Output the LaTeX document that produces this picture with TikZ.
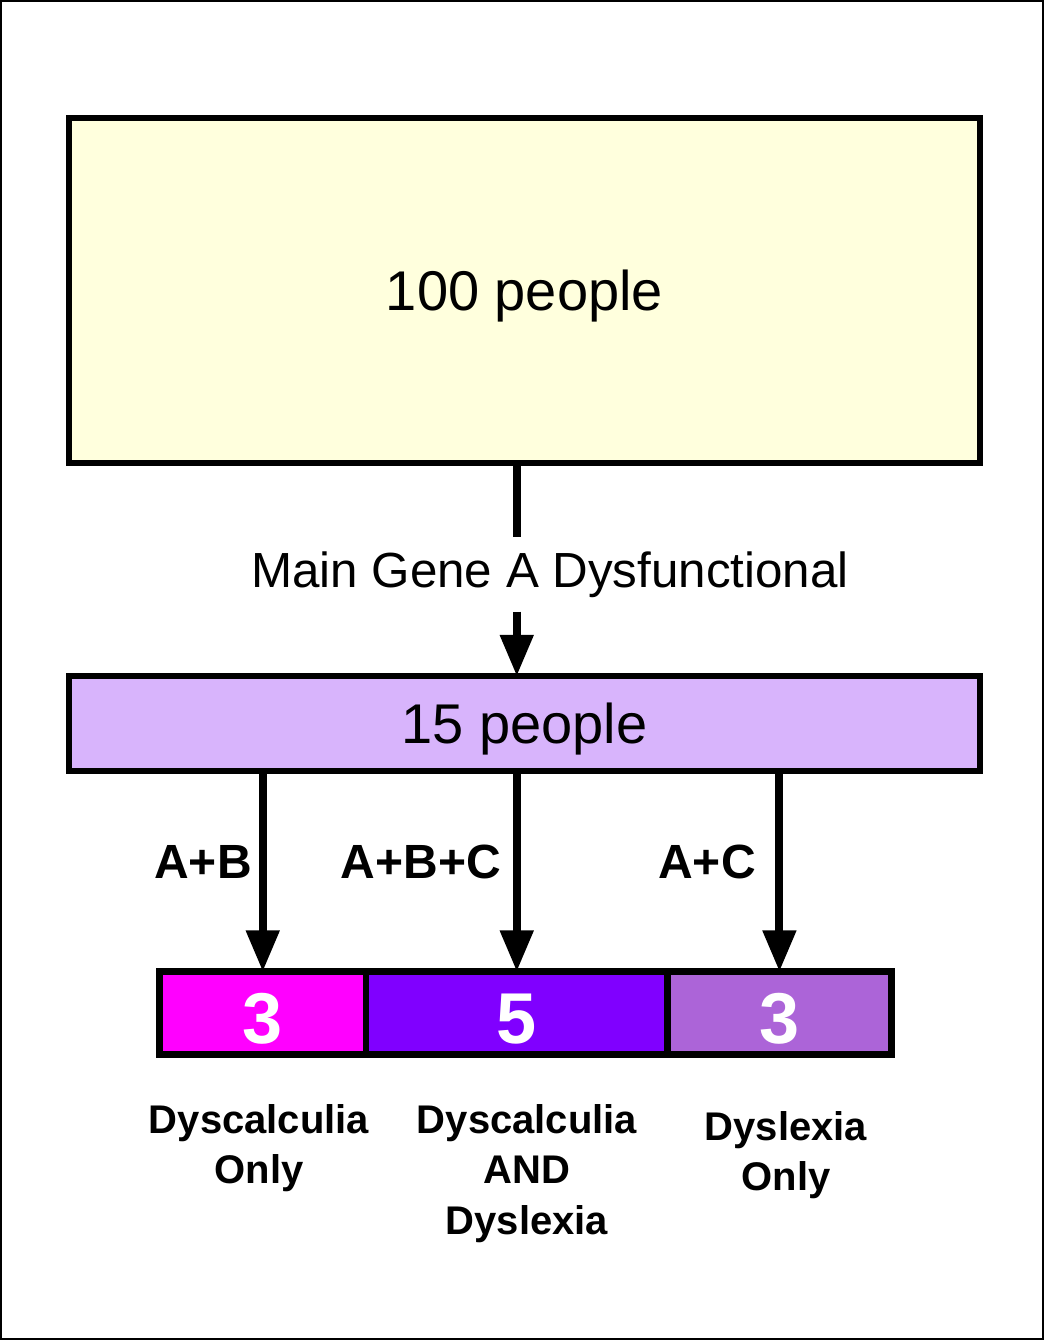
\documentclass[tikz,border=0pt]{standalone}
\usepackage{fontspec}
\setmainfont{Liberation Sans}
\usetikzlibrary{arrows.meta,positioning}
\definecolor{paleyellow}{RGB}{255,255,221}
\definecolor{lilac}{RGB}{216,180,252}
\definecolor{hotmagenta}{RGB}{255,0,255}
\definecolor{bluviolet}{RGB}{128,0,255}
\definecolor{orchid}{RGB}{172,100,216}

\begin{document}
\begin{tikzpicture}[x=0.75pt,y=-0.75pt,
  box/.style={draw, line width=4.5pt, minimum width=683pt, inner sep=0pt, outer sep=0pt, text depth=0pt, font=\fontsize{42}{50}\selectfont},
  seg/.style={draw, line width=5pt, minimum height=62pt, inner sep=0pt, outer sep=0pt, text=white, text height=45pt, text depth=0pt, font=\fontsize{54}{60}\selectfont\bfseries},
  link/.style={line width=6pt},
  tip/.style={link, -{Triangle[width=24pt,length=31pt]}},
  gate/.style={anchor=base, inner sep=0pt, font=\fontsize{36}{44}\selectfont\bfseries},
  group/.style={anchor=north, inner sep=0pt, align=center, font=\fontsize{30}{38}\selectfont\bfseries}]
\useasboundingbox (0,0) rectangle (1044,1340);
\draw[line width=1.5pt] (1,1) rectangle (1043,1339);

\node[box, fill=paleyellow, minimum height=259pt] (pool) at (524.5,290.5) {100 people};
\node[box, fill=lilac, minimum height=71pt] (carriers) at (524.5,723.5) {15 people};
\node[anchor=base, inner xsep=0pt, inner ysep=10.5pt, font=\fontsize{37}{44}\selectfont] (cause) at (550,587) {Main Gene A Dysfunctional};

\node[seg, fill=hotmagenta, minimum width=155pt] (calc) at (262.75,1013) {3};
\node[seg, fill=bluviolet, minimum width=226pt, right=0pt of calc] (both) {5};
\node[seg, fill=orchid, minimum width=168pt, right=0pt of both] (lex) {3};

\draw[link] (pool.south -| both.north) -- (cause.north -| both.north);
\draw[tip] (cause.south -| both.north) -- (carriers.north -| both.north);

\draw[tip] (carriers.south -| calc.north) -- (calc.north);
\draw[tip] (carriers.south -| both.north) -- (both.north);
\draw[tip] (carriers.south -| lex.north) -- (lex.north);

\node[gate] (ab) at (203,878) {A+B};
\node[gate] (abc) at (421,878) {A+B+C};
\node[gate] (ac) at (707,878) {A+C};

\node[group] (calcname) at (259,1104) {Dyscalculia\\Only};
\node[group] (bothname) at (527,1104) {Dyscalculia\\AND\\Dyslexia};
\node[group] (lexname) at (786,1111) {Dyslexia\\Only};

\end{tikzpicture}
\end{document}
